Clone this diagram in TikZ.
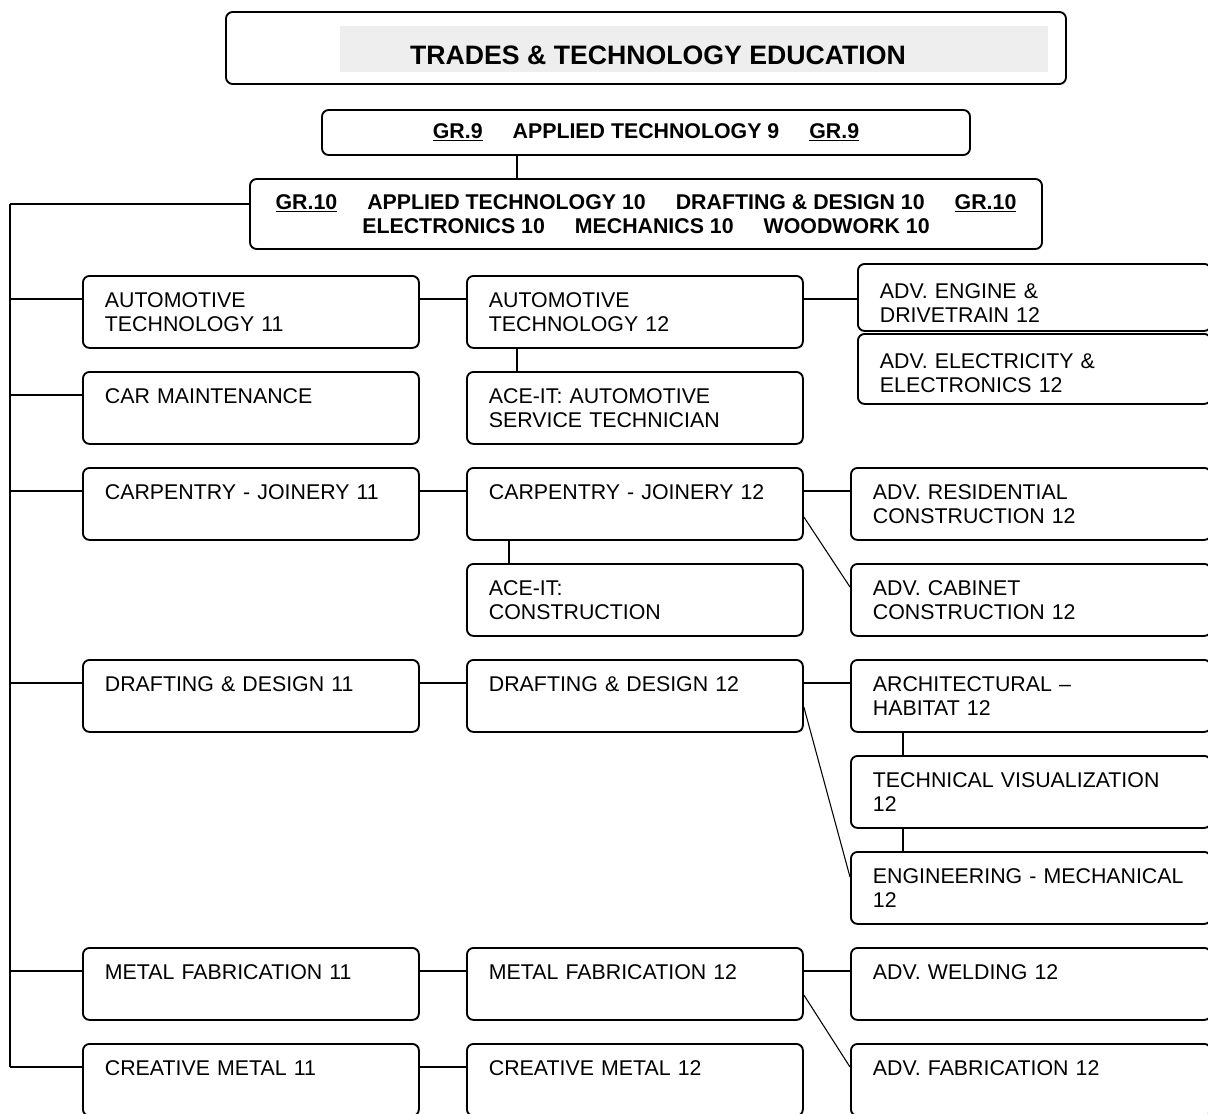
\documentclass[tikz,border=0pt]{standalone}
\usepackage{fontspec}
\setmainfont{Liberation Sans}
\usetikzlibrary{calc}
\newcommand{\gap}{\hspace{22.5pt}}

\begin{document}
\begin{tikzpicture}[x=0.75pt, y=-0.75pt, line join=round,
    box/.style={draw=black, line width=1.4pt, rounded corners=5pt, anchor=north west,
      font=\fontsize{16pt}{18pt}\selectfont, align=left, inner xsep=16.5pt,
      inner ysep=12pt, text height=12pt, text depth=18pt, text width=219pt},
    wbox/.style={box, text width=237pt},
    hdr/.style={draw=black, line width=1.4pt, rounded corners=5pt,
      font=\fontsize{16pt}{18pt}\selectfont\bfseries, align=center},
    link/.style={line width=1.35pt},
    slant/.style={line width=0.8pt}]
      \useasboundingbox (0,0) rectangle (1208,1114);

      % heading
      \node [draw=black, line width=1.4pt, rounded corners=5pt, minimum width=630pt,
        minimum height=54pt, name=title] at (646,48) {};
      \fill [gray!13] (340,26) rectangle (1048,72);
      \node [font=\fontsize{20pt}{24pt}\selectfont\bfseries, name=titletext] at (658,55)
      {TRADES \& TECHNOLOGY EDUCATION};

      \node [hdr, minimum width=486pt, minimum height=33.75pt, name=gr9] at (646,132.5)
      {\underline{GR.9}\gap APPLIED TECHNOLOGY 9\gap\underline{GR.9}};
      \node [hdr, minimum width=594pt, minimum height=52.5pt, name=gr10] at (646,214)
      {\underline{GR.10}\gap APPLIED TECHNOLOGY 10\gap DRAFTING \& DESIGN 10\gap\underline{GR.10}\\
       ELECTRONICS 10\gap MECHANICS 10\gap WOODWORK 10};
      \coordinate (bus) at (10,204);

      % grade 11
      \node [box, name=auto11] at (82,275) {AUTOMOTIVE\\TECHNOLOGY 11};
      \node [box, name=carmaint] at (82,371) {CAR MAINTENANCE};
      \node [box, name=carp11] at (82,467) {CARPENTRY - JOINERY 11};
      \node [box, name=draft11] at (82,659) {DRAFTING \& DESIGN 11};
      \node [box, name=metal11] at (82,947) {METAL FABRICATION 11};
      \node [box, name=creative11] at (82,1043) {CREATIVE METAL 11};

      % grade 12
      \node [box, name=auto12] at (466,275) {AUTOMOTIVE\\TECHNOLOGY 12};
      \node [box, name=aceauto] at (466,371) {ACE-IT: AUTOMOTIVE\\SERVICE TECHNICIAN};
      \node [box, name=carp12] at (466,467) {CARPENTRY - JOINERY 12};
      \node [box, name=acecon] at (466,563) {ACE-IT:\\CONSTRUCTION};
      \node [box, name=draft12] at (466,659) {DRAFTING \& DESIGN 12};
      \node [box, name=metal12] at (466,947) {METAL FABRICATION 12};
      \node [box, name=creative12] at (466,1043) {CREATIVE METAL 12};

      % advanced
      \node [box, inner ysep=14.25pt, text depth=9.75pt, text width=231.75pt, name=engine]
      at (857,263) {ADV. ENGINE \&\\DRIVETRAIN 12};
      \node [box, inner ysep=14.25pt, text depth=12pt, text width=231.75pt, name=elec]
      at (857,333) {ADV. ELECTRICITY \&\\ELECTRONICS 12};
      \node [wbox, name=advres] at (850,467) {ADV. RESIDENTIAL\\CONSTRUCTION 12};
      \node [wbox, name=cabinet] at (850,563) {ADV. CABINET\\CONSTRUCTION 12};
      \node [wbox, name=arch] at (850,659) {ARCHITECTURAL --\\HABITAT 12};
      \node [wbox, name=techvis] at (850,755) {TECHNICAL VISUALIZATION\\12};
      \node [wbox, name=engmech] at (850,851) {ENGINEERING - MECHANICAL\\12};
      \node [wbox, name=welding] at (850,947) {ADV. WELDING 12};
      \node [wbox, name=advfab] at (850,1043) {ADV. FABRICATION 12};

      \draw [link] ([xshift=-96.75pt]gr9.south) -- ([xshift=-96.75pt]gr9.south |- gr10.north);
      \draw [link] (bus) -- (bus -| gr10.west);
      \draw [link] (bus) -- ([yshift=-18pt]creative11.north west -| bus);
      \foreach \b in {auto11, carmaint, carp11, draft11, metal11, creative11}
        \draw [link] ([yshift=-18pt]\b.north west) -- ([yshift=-18pt]\b.north west -| bus);

      \foreach \a/\b in {auto11/auto12, carp11/carp12, draft11/draft12, metal11/metal12,
                        creative11/creative12, carp12/advres, draft12/arch, metal12/welding}
        \draw [link] ([yshift=-18pt]\a.north east) -- ([yshift=-18pt]\b.north west);
      \draw [link] ([yshift=-18pt]auto12.north east) -- ([yshift=-18pt]auto12.north east -| engine.west);

      \draw [line width=1pt] ([xshift=38.25pt]auto12.south west) -- ([xshift=38.25pt]auto12.south west |- aceauto.north);
      \draw [line width=1pt] ([xshift=32.25pt]carp12.south west) -- ([xshift=32.25pt]carp12.south west |- acecon.north);
      \draw [line width=1pt] ([xshift=39.75pt]arch.south west) -- ([xshift=39.75pt]arch.south west |- techvis.north);
      \draw [line width=1pt] ([xshift=39.75pt]techvis.south west) -- ([xshift=39.75pt]techvis.south west |- engmech.north);

      \draw [slant] ([yshift=-37.5pt]carp12.north east) -- ([yshift=-18pt]cabinet.north west);
      \draw [slant] ([yshift=-36pt]draft12.north east) -- ([yshift=-19.5pt]engmech.north west);
      \draw [slant] ([yshift=-36pt]metal12.north east) -- ([yshift=-18pt]advfab.north west);
    \end{tikzpicture}
\end{document}
